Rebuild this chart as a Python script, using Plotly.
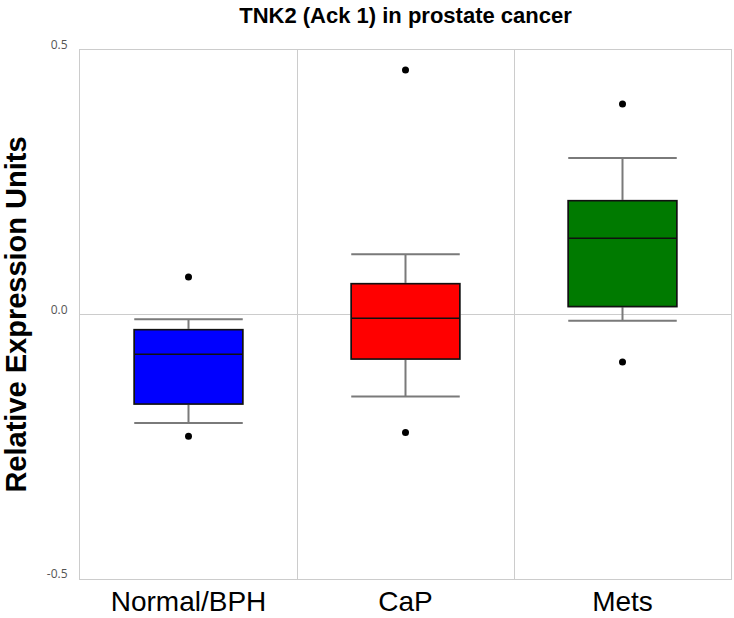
import plotly.graph_objects as go

categories = ["Normal/BPH", "CaP", "Mets"]
q1_vals = [-0.169, -0.084, 0.015]
median_vals = [-0.075, -0.007, 0.144]
q3_vals = [-0.029, 0.058, 0.215]
lower_whisker = [-0.205, -0.155, -0.012]
upper_whisker = [-0.009, 0.114, 0.296]
outliers = [[0.071, -0.230], [0.462, -0.223], [0.398, -0.090]]
colors = ["#0000ff", "#ff0000", "#007a00"]
y_ticks = [-0.5, 0.0, 0.5]
y_tick_labels = ["-0.5", "0.0", "0.5"]

fig = go.Figure()

for i, cat in enumerate(categories):
    # whiskers (gray)
    fig.add_trace(go.Box(
        x=[cat], q1=[q1_vals[i]], median=[median_vals[i]], q3=[q3_vals[i]],
        lowerfence=[lower_whisker[i]], upperfence=[upper_whisker[i]],
        fillcolor=colors[i], line=dict(color="#7a7a7a", width=2),
        whiskerwidth=1, width=0.5, boxpoints=False, showlegend=False,
        hoverinfo="skip",
    ))
    # box with black outline on top
    fig.add_trace(go.Box(
        x=[cat], q1=[q1_vals[i]], median=[median_vals[i]], q3=[q3_vals[i]],
        lowerfence=[q1_vals[i]], upperfence=[q3_vals[i]],
        fillcolor=colors[i], line=dict(color="#111111", width=1.5),
        whiskerwidth=0, width=0.5, boxpoints=False, showlegend=False,
    ))
    fig.add_trace(go.Scatter(
        x=[cat] * len(outliers[i]), y=outliers[i], mode="markers",
        marker=dict(color="black", size=7), showlegend=False,
    ))

fig.update_layout(
    width=734, height=618,
    margin=dict(l=80, r=3, t=50, b=39, autoexpand=False),
    paper_bgcolor="white", plot_bgcolor="white",
    boxmode="overlay",
    title=dict(text="<b>TNK2 (Ack 1) in prostate cancer</b>",
               font=dict(family="Liberation Sans, Arial", size=22, color="black"),
               x=0.5, xanchor="center", xref="paper",
               y=1 - 15 / 618, yanchor="middle", yref="container"),
    xaxis=dict(
        categoryorder="array", categoryarray=categories,
        range=[-0.5, 2.5], tickson="boundaries", showgrid=True,
        gridcolor="#cccccc", gridwidth=1, automargin=False,
        showline=True, linecolor="#cccccc", mirror=True,
        ticks="", ticklabelstandoff=-3,
        tickfont=dict(family="Liberation Sans, Arial", size=28, color="black"),
        zeroline=False,
    ),
    yaxis=dict(
        range=[-0.5, 0.5], tickvals=y_ticks, ticktext=y_tick_labels,
        showgrid=True, gridcolor="#cccccc", gridwidth=1, automargin=False,
        showline=True, linecolor="#cccccc", mirror=True,
        zeroline=False, ticks="", ticklabelstandoff=9, ticklabelshift=-5,
        tickfont=dict(family="Open Sans, DejaVu Sans", size=12, color="#555555"),
        title=dict(text="<b>Relative Expression Units</b>", standoff=29,
                   font=dict(family="Liberation Sans, Arial", size=29, color="black")),
    ),
)

fig.write_html("out.html", config={"displayModeBar": False},
               post_script="document.body.style.margin='0';document.body.style.overflow='hidden';")
